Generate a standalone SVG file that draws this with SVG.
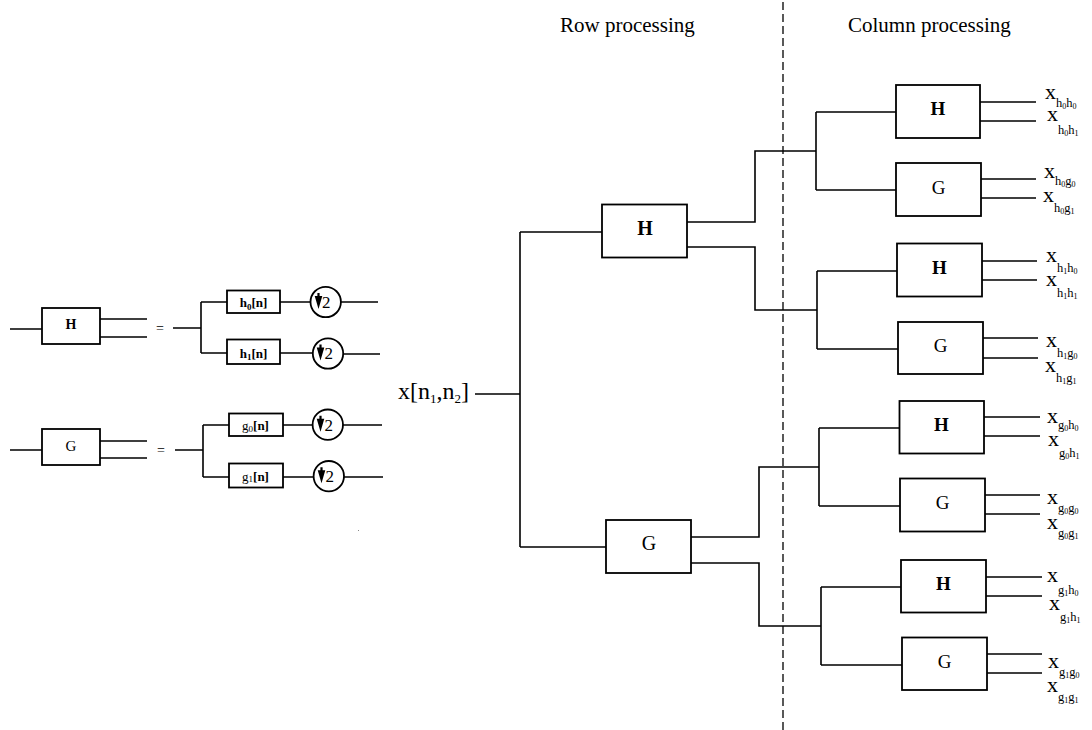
<svg xmlns="http://www.w3.org/2000/svg" width="1092" height="730" viewBox="0 0 1092 730">
<style>
.ln{stroke:#000;stroke-width:1.6;fill:none}
.bx{fill:#fff;stroke:#000;stroke-width:1.8}
.cr{fill:#fff;stroke:#000;stroke-width:1.8}
.t{font-family:"Liberation Serif","Times New Roman",serif;fill:#000}
.lb{font-size:22px}
.s{font-size:12.5px}
.d{font-size:8px}
.dash{stroke:#000;stroke-width:1.3;stroke-dasharray:8,4;fill:none}
</style>
<defs>
<g id="dn"><path d="M-1.1,-9 L1.1,-9 L1.1,-6 L3.8,-6 L0,7 L-3.8,-6 L-1.1,-6 Z" fill="#000"/></g>
</defs>
<rect width="1092" height="730" fill="#fff"/>

<!-- headers -->
<text class="t" x="560" y="32" font-size="21">Row processing</text>
<text class="t" x="848" y="32" font-size="21">Column processing</text>
<line class="dash" x1="783" y1="2" x2="783" y2="730"/>

<g id="connectors">
<!-- legend H -->
<path class="ln" d="M10,329 H42 M100,319 H147 M100,337 H147"/>
<path class="ln" d="M173,328 H201 M201,302 V353 M201,302 H227 M201,353 H227"/>
<path class="ln" d="M280,302 H310.5 M341,302 H378 M280,353 H313 M343,354 H380"/>
<!-- legend G -->
<path class="ln" d="M10,450 H42 M100,441 H147 M100,458 H147"/>
<path class="ln" d="M175,450 H203 M203,425 V477 M203,425 H229 M203,477 H229"/>
<path class="ln" d="M283,425 H312.5 M343,425 H382 M283,477 H313.5 M344,477 H383"/>
<!-- main -->
<path class="ln" d="M475,394 H520 M520,232 V547 M520,232 H602 M520,547 H606"/>
<path class="ln" d="M687,222 H755 V151 H816 M687,247 H755 V310 H817"/>
<path class="ln" d="M816,112 V190 M816,112 H896 M816,190 H896"/>
<path class="ln" d="M817,271 V349 M817,271 H897 M817,349 H898"/>
<path class="ln" d="M691,537 H759 V467 H819 M691,563 H759 V626 H821"/>
<path class="ln" d="M819,428 V506 M819,428 H899 M819,506 H900"/>
<path class="ln" d="M821,587 V665 M821,587 H901 M821,665 H902"/>
<!-- outputs -->
<path class="ln" d="M980,102 H1036 M980,121 H1036"/>
<path class="ln" d="M981,179 H1036 M981,198 H1036"/>
<path class="ln" d="M982,261 H1037 M982,280 H1037"/>
<path class="ln" d="M983,338 H1038 M983,358 H1038"/>
<path class="ln" d="M984,417 H1040 M984,436 H1040"/>
<path class="ln" d="M985,495 H1040 M985,514 H1040"/>
<path class="ln" d="M986,577 H1042 M986,596 H1042"/>
<path class="ln" d="M987,654 H1042 M987,673 H1042"/>
</g>

<!-- legend nodes -->
<g id="legH">
<rect class="bx" x="42" y="308" width="58" height="36"/>
<text class="t" x="71" y="328.5" font-size="14" font-weight="bold" text-anchor="middle">H</text>
<text class="t" x="160" y="333" font-size="14" text-anchor="middle">=</text>
</g>
<g id="h0">
<rect class="bx" x="227" y="290.5" width="53" height="22.5"/>
<text class="t" x="253.5" y="307" font-size="13" font-weight="bold" text-anchor="middle">h<tspan font-size="9" dy="3">0</tspan><tspan dy="-3">[n]</tspan></text>
</g>
<g id="d1"><circle class="cr" cx="325.7" cy="302" r="15.2"/><use href="#dn" x="318.5" y="302"/><text class="t" x="322" y="307.5" font-size="17">2</text></g>
<g id="h1">
<rect class="bx" x="227" y="339.5" width="53" height="24.5"/>
<text class="t" x="253.5" y="357.5" font-size="13" font-weight="bold" text-anchor="middle">h<tspan font-size="9" dy="2">1</tspan><tspan dy="-2">[n]</tspan></text>
</g>
<g id="d2"><circle class="cr" cx="328" cy="353.5" r="15.2"/><use href="#dn" x="320.5" y="353.5"/><text class="t" x="324.5" y="359" font-size="17">2</text></g>

<g id="legG">
<rect class="bx" x="42" y="429" width="58" height="36"/>
<text class="t" x="71" y="450.5" font-size="15" text-anchor="middle">G</text>
<text class="t" x="161" y="454.5" font-size="14" text-anchor="middle">=</text>
</g>
<g id="g0">
<rect class="bx" x="229" y="413.5" width="54" height="22.5"/>
<text class="t" x="255.5" y="430" font-size="13" text-anchor="middle">g<tspan font-size="9" dy="2">0</tspan><tspan dy="-2" font-weight="bold">[n]</tspan></text>
</g>
<g id="d3"><circle class="cr" cx="327.8" cy="424.7" r="15.2"/><use href="#dn" x="320.5" y="424.7"/><text class="t" x="324.5" y="430.5" font-size="17">2</text></g>
<g id="g1">
<rect class="bx" x="229" y="463.5" width="54" height="24"/>
<text class="t" x="255.5" y="481" font-size="13" text-anchor="middle">g<tspan font-size="9" dy="1">1</tspan><tspan dy="-1" font-weight="bold">[n]</tspan></text>
</g>
<g id="d4"><circle class="cr" cx="328.8" cy="476.2" r="15.2"/><use href="#dn" x="321.5" y="476.2"/><text class="t" x="325.5" y="482" font-size="17">2</text></g>
<rect x="358" y="530" width="1" height="1" fill="#888"/>

<!-- input -->
<g id="input"><text class="t" x="398" y="398.5" font-size="24">x[n<tspan font-size="13" dy="4">1</tspan><tspan dy="-4">,n</tspan><tspan font-size="13" dy="4">2</tspan><tspan dy="-4">]</tspan></text></g>

<!-- row nodes -->
<g id="rowH"><rect class="bx" x="602" y="204.5" width="85" height="53"/><text class="t" x="645" y="234.5" font-size="20" font-weight="bold" text-anchor="middle">H</text></g>
<g id="rowG"><rect class="bx" x="606" y="520" width="85" height="53"/><text class="t" x="649" y="549.5" font-size="20" text-anchor="middle">G</text></g>

<!-- column nodes -->
<g id="cH1"><rect class="bx" x="896" y="85" width="84" height="53"/><text class="t" x="938" y="114.5" font-size="19" font-weight="bold" text-anchor="middle">H</text></g>
<g id="cG1"><rect class="bx" x="896" y="163" width="85" height="53"/><text class="t" x="938.5" y="193.5" font-size="19" text-anchor="middle">G</text></g>
<g id="cH2"><rect class="bx" x="897" y="243.5" width="85" height="53"/><text class="t" x="939.5" y="273.5" font-size="19" font-weight="bold" text-anchor="middle">H</text></g>
<g id="cG2"><rect class="bx" x="898" y="322" width="85" height="52"/><text class="t" x="940.5" y="351.5" font-size="19" text-anchor="middle">G</text></g>
<g id="cH3"><rect class="bx" x="899.5" y="401" width="84.5" height="52.5"/><text class="t" x="941.5" y="430.5" font-size="19" font-weight="bold" text-anchor="middle">H</text></g>
<g id="cG3"><rect class="bx" x="900" y="478.5" width="85" height="53"/><text class="t" x="942.5" y="508.5" font-size="19" text-anchor="middle">G</text></g>
<g id="cH4"><rect class="bx" x="901" y="560" width="85" height="52.5"/><text class="t" x="943.5" y="590" font-size="19" font-weight="bold" text-anchor="middle">H</text></g>
<g id="cG4"><rect class="bx" x="902" y="637.5" width="85" height="52.5"/><text class="t" x="944.5" y="667.5" font-size="19" text-anchor="middle">G</text></g>

<!-- output labels -->
<g id="labels" class="t">
<text class="lb" x="1045" y="99">x<tspan class="s" dy="8">h</tspan><tspan class="d" dy="2">0</tspan><tspan class="s" dy="-2">h</tspan><tspan class="d" dy="2">0</tspan></text>
<text class="lb" x="1047" y="121">x<tspan class="s" dy="13">h</tspan><tspan class="d" dy="2">0</tspan><tspan class="s" dy="-2">h</tspan><tspan class="d" dy="2">1</tspan></text>
<text class="lb" x="1044" y="178">x<tspan class="s" dy="7">h</tspan><tspan class="d" dy="2">0</tspan><tspan class="s" dy="-2">g</tspan><tspan class="d" dy="2">0</tspan></text>
<text class="lb" x="1043" y="202">x<tspan class="s" dy="10">h</tspan><tspan class="d" dy="2">0</tspan><tspan class="s" dy="-2">g</tspan><tspan class="d" dy="2">1</tspan></text>
<text class="lb" x="1046" y="262">x<tspan class="s" dy="10">h</tspan><tspan class="d" dy="2">1</tspan><tspan class="s" dy="-2">h</tspan><tspan class="d" dy="2">0</tspan></text>
<text class="lb" x="1046" y="286">x<tspan class="s" dy="10.5">h</tspan><tspan class="d" dy="2">1</tspan><tspan class="s" dy="-2">h</tspan><tspan class="d" dy="2">1</tspan></text>
<text class="lb" x="1046" y="347">x<tspan class="s" dy="10">h</tspan><tspan class="d" dy="2">1</tspan><tspan class="s" dy="-2">g</tspan><tspan class="d" dy="2">0</tspan></text>
<text class="lb" x="1045" y="372">x<tspan class="s" dy="10">h</tspan><tspan class="d" dy="2">1</tspan><tspan class="s" dy="-2">g</tspan><tspan class="d" dy="2">1</tspan></text>
<text class="lb" x="1047" y="423">x<tspan class="s" dy="6">g</tspan><tspan class="d" dy="2">0</tspan><tspan class="s" dy="-2">h</tspan><tspan class="d" dy="2">0</tspan></text>
<text class="lb" x="1048" y="446">x<tspan class="s" dy="11">g</tspan><tspan class="d" dy="2">0</tspan><tspan class="s" dy="-2">h</tspan><tspan class="d" dy="2">1</tspan></text>
<text class="lb" x="1047" y="503.5">x<tspan class="s" dy="8">g</tspan><tspan class="d" dy="2">0</tspan><tspan class="s" dy="-2">g</tspan><tspan class="d" dy="2">0</tspan></text>
<text class="lb" x="1047" y="529">x<tspan class="s" dy="8">g</tspan><tspan class="d" dy="2">0</tspan><tspan class="s" dy="-2">g</tspan><tspan class="d" dy="2">1</tspan></text>
<text class="lb" x="1047" y="582">x<tspan class="s" dy="12">g</tspan><tspan class="d" dy="2">1</tspan><tspan class="s" dy="-2">h</tspan><tspan class="d" dy="2">0</tspan></text>
<text class="lb" x="1049" y="609.5">x<tspan class="s" dy="11">g</tspan><tspan class="d" dy="2">1</tspan><tspan class="s" dy="-2">h</tspan><tspan class="d" dy="2">1</tspan></text>
<text class="lb" x="1048" y="667.5">x<tspan class="s" dy="8">g</tspan><tspan class="d" dy="2">1</tspan><tspan class="s" dy="-2">g</tspan><tspan class="d" dy="2">0</tspan></text>
<text class="lb" x="1047" y="692">x<tspan class="s" dy="9">g</tspan><tspan class="d" dy="2">1</tspan><tspan class="s" dy="-2">g</tspan><tspan class="d" dy="2">1</tspan></text>
</g>
</svg>
